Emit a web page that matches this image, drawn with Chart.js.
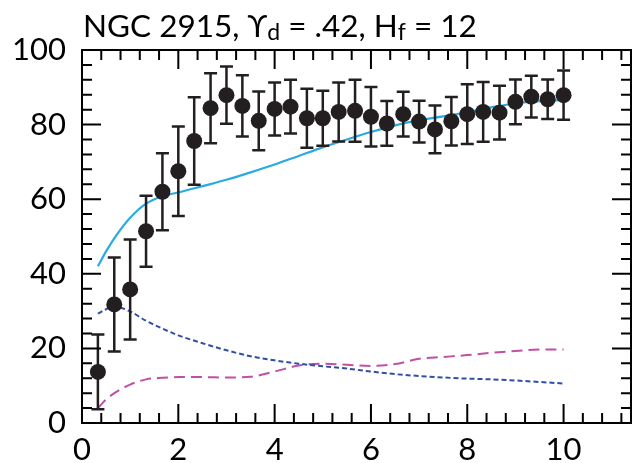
<!DOCTYPE html>
<html>
<head>
<meta charset="utf-8">
<title>NGC 2915 rotation curve</title>
<script src="https://cdn.jsdelivr.net/npm/chart.js@4/dist/chart.umd.min.js"></script>
<style>
  html, body { margin: 0; padding: 0; background: #fff; }
  canvas { display: block; }
</style>
</head>
<body>
<canvas id="rc" width="639" height="463"></canvas>
<script>
'use strict';
//////////////// data

// observed rotation velocities (km/s) with errors
let obsR = [0.33, 0.67, 1.0, 1.33, 1.67, 2.0, 2.33, 2.67, 3.0, 3.33,
  3.67, 4.0, 4.33, 4.67, 5.0, 5.33, 5.67, 6.0, 6.33, 6.67,
  7.0, 7.33, 7.67, 8.0, 8.33, 8.67, 9.0, 9.33, 9.67, 10.0];
let obsV = [13.7, 31.8, 35.8, 51.4, 62.0, 67.5, 75.6, 84.4, 87.9, 85.0,
  81.0, 84.2, 84.8, 81.7, 81.7, 83.4, 83.7, 82.1, 80.3, 82.8,
  80.8, 78.7, 80.9, 82.8, 83.4, 83.2, 86.1, 87.5, 86.8, 87.9];
let obsErr = [10.0, 12.6, 13.4, 9.5, 10.3, 12.0, 11.7, 9.4, 7.7, 8.2,
  7.9, 7.1, 7.2, 7.9, 7.4, 7.9, 8.3, 8.0, 6.0, 6.0,
  5.6, 6.4, 6.5, 8.0, 8.0, 7.2, 6.0, 5.6, 5.3, 6.6];

// model curves
let modelR = [0.33, 0.5, 0.67, 1.0, 1.33, 1.67, 2.0, 2.5, 3.0, 3.5, 4.0, 4.5,
  5.0, 5.5, 6.0, 6.5, 7.0, 7.5, 8.0, 8.5, 9.0, 9.5, 10.0];
let totalV = [42.0, 46.0, 49.5, 55.0, 58.8, 60.8, 61.8, 63.5, 65.2, 67.2, 69.3, 71.6,
  73.9, 76.0, 78.0, 79.8, 81.2, 82.2, 83.3, 84.6, 85.7, 86.3, 86.6];
let diskV = [29.3, 30.5, 31.2, 29.9, 27.4, 25.3, 23.5, 21.4, 19.5, 17.9, 16.8, 15.9,
  15.2, 14.6, 13.8, 13.1, 12.6, 12.2, 11.9, 11.7, 11.4, 11.0, 10.6];
let gasV = [4.0, 6.3, 8.0, 10.3, 11.7, 12.1, 12.3, 12.3, 12.2, 12.4, 13.8, 15.4,
  15.9, 15.6, 15.3, 15.8, 17.2, 17.7, 18.2, 18.8, 19.3, 19.7, 19.7];

let xTicks = [0, 2, 4, 6, 8, 10];
let yTicks = [0, 20, 40, 60, 80, 100];

const FONT = 'Lato, "Open Sans", sans-serif';

function pairs (xs, ys) {
  return xs.map((x, i) => ({ x: x, y: ys[i] }));
}

/////////////// error bars, drawn just under the points
const errorBars = {
  id: 'errorBars',
  beforeDatasetDraw (chart, args) {
    if (args.index !== 0) return;
    const { ctx, scales: { x, y } } = chart;
    ctx.save();
    ctx.strokeStyle = '#231f20';
    ctx.lineWidth = 2.5;
    for (let i = 0; i < obsR.length; i++) {
      const px = x.getPixelForValue(obsR[i]);
      const top = y.getPixelForValue(obsV[i] + obsErr[i]);
      const bot = y.getPixelForValue(obsV[i] - obsErr[i]);
      ctx.beginPath();
      ctx.moveTo(px, top); ctx.lineTo(px, bot);
      ctx.moveTo(px - 6.5, top); ctx.lineTo(px + 6.5, top);
      ctx.moveTo(px - 6.5, bot); ctx.lineTo(px + 6.5, bot);
      ctx.stroke();
    }
    ctx.restore();
  }
};

/////////////// box frame with inward ticks on all sides, plus the title
const frame = {
  id: 'frame',
  afterDraw (chart) {
    const { ctx, chartArea: a, scales: { x, y } } = chart;
    ctx.save();
    ctx.strokeStyle = '#000';
    ctx.lineWidth = 2;
    ctx.strokeRect(a.left, a.top, a.right - a.left, a.bottom - a.top);
    ctx.beginPath();
    for (let v = 0; v <= 11.2 + 1e-6; v += 0.4) {
      const px = x.getPixelForValue(v);
      const len = Math.abs(v / 2 - Math.round(v / 2)) < 1e-6 ? 19 : 10;
      ctx.moveTo(px, a.bottom); ctx.lineTo(px, a.bottom - len);
      ctx.moveTo(px, a.top); ctx.lineTo(px, a.top + len);
    }
    for (let v = 0; v <= 100; v += 4) {
      const py = y.getPixelForValue(v);
      const len = v % 20 === 0 ? 19 : 10;
      ctx.moveTo(a.left, py); ctx.lineTo(a.left + len, py);
      ctx.moveTo(a.right, py); ctx.lineTo(a.right - len, py);
    }
    ctx.stroke();

    // title with subscripts
    const parts = [
      ['NGC 2915, \u03D2', false], ['d', true], [' = .42, H', false], ['f', true], [' = 12', false]
    ];
    let tx = 83;
    const base = 37;
    ctx.fillStyle = '#000';
    ctx.textBaseline = 'alphabetic';
    ctx.textAlign = 'left';
    parts.forEach(([txt, sub]) => {
      ctx.font = (sub ? '23px ' : '31.5px ') + FONT;
      ctx.fillText(txt, tx, sub ? base + 3 : base);
      tx += ctx.measureText(txt).width;
    });
    ctx.restore();
  }
};

/////////////// chart
const tickFont = { family: FONT, size: 31 };

new Chart(document.getElementById('rc'), {
  type: 'scatter',
  data: {
    datasets: [
      {
        label: 'observed',
        data: pairs(obsR, obsV),
        backgroundColor: '#231f20',
        borderWidth: 0,
        pointRadius: 8,
        pointHoverRadius: 8
      },
      {
        label: 'total',
        data: pairs(modelR, totalV),
        showLine: true,
        borderColor: '#29abe2',
        borderWidth: 2.2,
        pointRadius: 0,
        cubicInterpolationMode: 'monotone'
      },
      {
        label: 'disk',
        data: pairs(modelR, diskV),
        showLine: true,
        borderColor: '#2e4fa3',
        borderWidth: 2,
        borderDash: [5, 3],
        pointRadius: 0,
        cubicInterpolationMode: 'monotone'
      },
      {
        label: 'gas',
        data: pairs(modelR, gasV),
        showLine: true,
        borderColor: '#c04fa6',
        borderWidth: 2,
        borderDash: [11, 6],
        pointRadius: 0,
        cubicInterpolationMode: 'monotone'
      }
    ]
  },
  options: {
    responsive: false,
    animation: false,
    devicePixelRatio: 1,
    layout: { padding: { top: 50, right: 4, left: 0, bottom: 0 } },
    plugins: {
      legend: { display: false },
      title: { display: false },
      tooltip: { enabled: false }
    },
    scales: {
      x: {
        type: 'linear',
        min: 0,
        max: 11.4,
        afterBuildTicks: s => { s.ticks = xTicks.map(v => ({ value: v })); },
        afterFit: s => { s.height = 40; },
        grid: { display: false, drawTicks: false },
        border: { display: false },
        ticks: { font: tickFont, color: '#000', padding: 8, maxRotation: 0 }
      },
      y: {
        min: 0,
        max: 100,
        afterBuildTicks: s => { s.ticks = yTicks.map(v => ({ value: v })); },
        afterFit: s => { s.width = 82; },
        grid: { display: false, drawTicks: false },
        border: { display: false },
        ticks: { font: tickFont, color: '#000', padding: 16 }
      }
    }
  },
  plugins: [errorBars, frame]
});
</script>
</body>
</html>
